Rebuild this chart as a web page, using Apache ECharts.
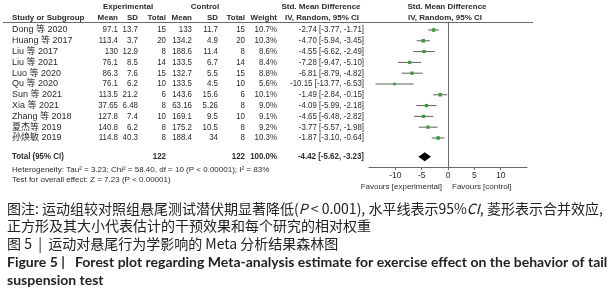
<!DOCTYPE html>
<html>
<head>
<meta charset="utf-8">
<script src="https://cdn.jsdelivr.net/npm/echarts@6/dist/echarts.min.js"></script>
<style>
  html, body { margin: 0; padding: 0; background: #fff; }
  #chart { width: 615px; height: 300px; }
</style>
</head>
<body>
<div id="chart"></div>
<script>
// 研究数据
const studies = ["Dong 等 2020", "Huang 等 2017", "Liu 等 2017", "Liu 等 2021", "Luo 等 2020", "Qu 等 2020", "Sun 等 2021", "Xia 等 2021", "Zhang 等 2018", "夏杰等 2019", "孙焕敏 2019"];
const expMean = [97.1, 113.4, 130, 76.1, 86.3, 76.1, 113.5, 37.65, 127.8, 140.8, 114.8];
const expSD = [13.7, 3.7, 12.9, 8.5, 7.6, 6.2, 21.2, 6.48, 7.4, 6.2, 40.3];
const expN = [15, 20, 8, 14, 15, 10, 6, 8, 10, 8, 8];
const ctlMean = [133, 134.2, 188.6, 133.5, 132.7, 133.5, 143.6, 63.16, 169.1, 175.2, 188.4];
const ctlSD = [11.7, 4.9, 11.4, 6.7, 5.5, 4.5, 15.6, 5.26, 9.5, 10.5, 34];
const ctlN = [15, 20, 8, 14, 15, 10, 6, 8, 10, 8, 8];
const weight = [10.7, 10.3, 8.6, 8.4, 8.8, 5.6, 10.1, 9.0, 9.1, 9.2, 10.3];
const smd = [-2.74, -4.70, -4.55, -7.28, -6.81, -10.15, -1.49, -4.09, -4.65, -3.77, -1.87];
const ciLow = [-3.77, -5.94, -6.62, -9.47, -8.79, -13.77, -2.84, -5.99, -6.48, -5.57, -3.10];
const ciHigh = [-1.71, -3.45, -2.49, -5.10, -4.82, -6.53, -0.15, -2.18, -2.82, -1.98, -0.64];

// 合并结果
const totalExpN = 122;
const totalCtlN = 122;
const totalWeight = 100.0;
const pooled = [-4.42, -5.62, -3.23]; // smd, low, high
const heterogeneity = "Heterogeneity: Tau\u00b2 = 3.23; Chi\u00b2 = 58.40, df = 10 (P < 0.00001); I\u00b2 = 83%";
const overallEffect = "Test for overall effect: Z = 7.23 (P < 0.00001)";
const xRange = [-15, 15];
const xTicks = [-10, -5, 0, 5, 10];

const captionLines = [
  "图注: 运动组较对照组悬尾测试潜伏期显著降低({i|P} < 0.001), 水平线表示95%{i|CI}, 菱形表示合并效应,",
  "正方形及其大小代表估计的干预效果和每个研究的相对权重",
  "图 5  |  运动对悬尾行为学影响的 Meta 分析结果森林图",
  "Figure 5 |   Forest plot regarding Meta-analysis estimate for exercise effect on the behavior of tail",
  "suspension test",
];

const FONT = '"Liberation Sans", Arial, "Noto Sans CJK SC", sans-serif';
const CJK = '"Noto Sans CJK SC", sans-serif';
const TEXT = "#2b2b2b";
const LINE = "#6a6a6a";

// 表格列位置（右对齐像素）
const COL = { study: 12, expMean: 118, expSD: 138, expN: 166, ctlMean: 192, ctlSD: 218, ctlN: 245, weight: 277, ci: 364 };
const Y_MIN = -0.74;
const Y_MAX = 12.69;
const totalRow = studies.length + 0.75;

const fmtCI = (m, l, h) => `${m.toFixed(2)} [${l.toFixed(2)}, ${h.toFixed(2)}]`;

const cells = [];
studies.forEach((name, i) => {
  cells.push({ x: COL.study, row: i, text: name, align: "left", wide: true });
  cells.push({ x: COL.expMean, row: i, text: String(expMean[i]) });
  cells.push({ x: COL.expSD, row: i, text: String(expSD[i]) });
  cells.push({ x: COL.expN, row: i, text: String(expN[i]) });
  cells.push({ x: COL.ctlMean, row: i, text: String(ctlMean[i]) });
  cells.push({ x: COL.ctlSD, row: i, text: String(ctlSD[i]) });
  cells.push({ x: COL.ctlN, row: i, text: String(ctlN[i]) });
  cells.push({ x: COL.weight, row: i, text: weight[i].toFixed(1) + "%" });
  cells.push({ x: COL.ci, row: i, text: fmtCI(smd[i], ciLow[i], ciHigh[i]) });
});
cells.push({ x: COL.study, row: totalRow, text: "Total (95% CI)", align: "left", bold: true });
cells.push({ x: COL.expN, row: totalRow, text: String(totalExpN), bold: true });
cells.push({ x: COL.ctlN, row: totalRow, text: String(totalCtlN), bold: true });
cells.push({ x: COL.weight, row: totalRow, text: totalWeight.toFixed(1) + "%", bold: true });
cells.push({ x: COL.ci, row: totalRow, text: fmtCI(pooled[0], pooled[1], pooled[2]), bold: true });

function headText(x, y, text, align, bold) {
  return {
    type: "text", x, y,
    style: { text, align: align || "center", verticalAlign: "middle", fill: TEXT, font: `${bold === false ? "" : "bold "}8px ${FONT}` },
  };
}

const chart = echarts.init(document.getElementById("chart"));

const option = {
  backgroundColor: "#fff",
  animation: false,
  grid: [
    { left: 0, top: 22, width: 615, height: 145 },
    { left: 369, top: 22, width: 158, height: 145 },
  ],
  xAxis: [
    { gridIndex: 0, type: "value", min: 0, max: 615, show: false },
    {
      gridIndex: 1, type: "value", min: xRange[0], max: xRange[1],
      axisLine: { onZero: false, lineStyle: { color: LINE, width: 1 } },
      axisTick: { length: 3, customValues: xTicks, lineStyle: { color: LINE } },
      axisLabel: { fontSize: 8.5, color: TEXT, fontFamily: FONT, margin: 4, customValues: xTicks },
      splitLine: { show: false },
    },
  ],
  yAxis: [
    { gridIndex: 0, type: "value", inverse: true, min: Y_MIN, max: Y_MAX, show: false },
    {
      gridIndex: 1, type: "value", inverse: true, min: Y_MIN, max: Y_MAX,
      axisLine: { show: true, onZero: true, lineStyle: { color: LINE, width: 1 } },
      axisTick: { show: false },
      axisLabel: { show: false },
      splitLine: { show: false },
    },
  ],
  series: [
    {
      // 表格文字
      type: "custom",
      xAxisIndex: 0, yAxisIndex: 0,
      clip: false,
      data: cells.map((c) => [c.x, c.row]),
      renderItem: (params, api) => {
        const c = cells[params.dataIndex];
        const p = api.coord([api.value(0), api.value(1)]);
        return {
          type: "text", x: p[0], y: p[1], scaleX: c.wide ? 1 : 0.88,
          style: { text: c.text, align: c.align || "right", verticalAlign: "middle", fill: TEXT, font: `${c.bold ? "bold " : ""}9px ${FONT}` },
        };
      },
    },
    {
      // 各研究的 95%CI 与权重方块
      type: "custom",
      xAxisIndex: 1, yAxisIndex: 1,
      clip: false,
      data: studies.map((s, i) => [smd[i], i, ciLow[i], ciHigh[i], weight[i]]),
      renderItem: (params, api) => {
        const c = api.coord([api.value(0), api.value(1)]);
        const l = api.coord([api.value(2), api.value(1)]);
        const h = api.coord([api.value(3), api.value(1)]);
        const s = Math.sqrt(api.value(4)) * 1.1;
        return {
          type: "group",
          children: [
            { type: "line", shape: { x1: l[0], y1: c[1], x2: h[0], y2: c[1] }, style: { stroke: "#5e5e5e", lineWidth: 1 } },
            { type: "rect", shape: { x: c[0] - s / 2, y: c[1] - s / 2, width: s, height: s }, style: { fill: "#3a9d3a" } },
          ],
        };
      },
    },
    {
      // 合并效应菱形
      type: "custom",
      xAxisIndex: 1, yAxisIndex: 1,
      clip: false,
      data: [[pooled[0], totalRow, pooled[1], pooled[2]]],
      renderItem: (params, api) => {
        const c = api.coord([api.value(0), api.value(1)]);
        const l = api.coord([api.value(2), api.value(1)]);
        const h = api.coord([api.value(3), api.value(1)]);
        return {
          type: "polygon",
          shape: { points: [[l[0], c[1]], [c[0], c[1] - 4.5], [h[0], c[1]], [c[0], c[1] + 4.5]] },
          style: { fill: "#000" },
        };
      },
    },
  ],
  graphic: [
    headText(128, 7, "Experimental"),
    headText(205, 7, "Control"),
    headText(321, 7, "Std. Mean Difference"),
    headText(447, 7, "Std. Mean Difference"),
    headText(12, 17.5, "Study or Subgroup", "left"),
    headText(COL.expMean, 17.5, "Mean", "right"),
    headText(COL.expSD, 17.5, "SD", "right"),
    headText(COL.expN, 17.5, "Total", "right"),
    headText(COL.ctlMean, 17.5, "Mean", "right"),
    headText(COL.ctlSD, 17.5, "SD", "right"),
    headText(COL.ctlN, 17.5, "Total", "right"),
    headText(COL.weight, 17.5, "Weight", "right"),
    headText(322, 17.5, "IV, Random, 95% CI"),
    headText(445, 17.5, "IV, Random, 95% CI"),
    { type: "line", shape: { x1: 3, y1: 22.5, x2: 533, y2: 22.5 }, style: { stroke: LINE, lineWidth: 1 } },
    headText(12, 169.5, heterogeneity, "left", false),
    headText(12, 179.5, overallEffect, "left", false),
    headText(442, 187, "Favours [experimental]", "right", false),
    headText(452, 187, "Favours [control]", "left", false),
    {
      type: "text", left: 7, top: 202,
      style: { text: captionLines[0], fill: "#222", font: `14px ${CJK}`, rich: { i: { fontStyle: "italic", fontSize: 14, fontFamily: CJK, fill: "#222" } } },
    },
    { type: "text", left: 7, top: 219, style: { text: captionLines[1], fill: "#222", font: `14px ${CJK}` } },
    { type: "text", left: 7, top: 237, style: { text: captionLines[2], fill: "#222", font: `14px ${CJK}` } },
    { type: "text", left: 7, top: 255, style: { text: captionLines[3], fill: "#222", font: `bold 14px Lato, ${CJK}` } },
    { type: "text", left: 7, top: 273, style: { text: captionLines[4], fill: "#222", font: `bold 14px Lato, ${CJK}` } },
  ],
};

chart.setOption(option);
</script>
</body>
</html>
